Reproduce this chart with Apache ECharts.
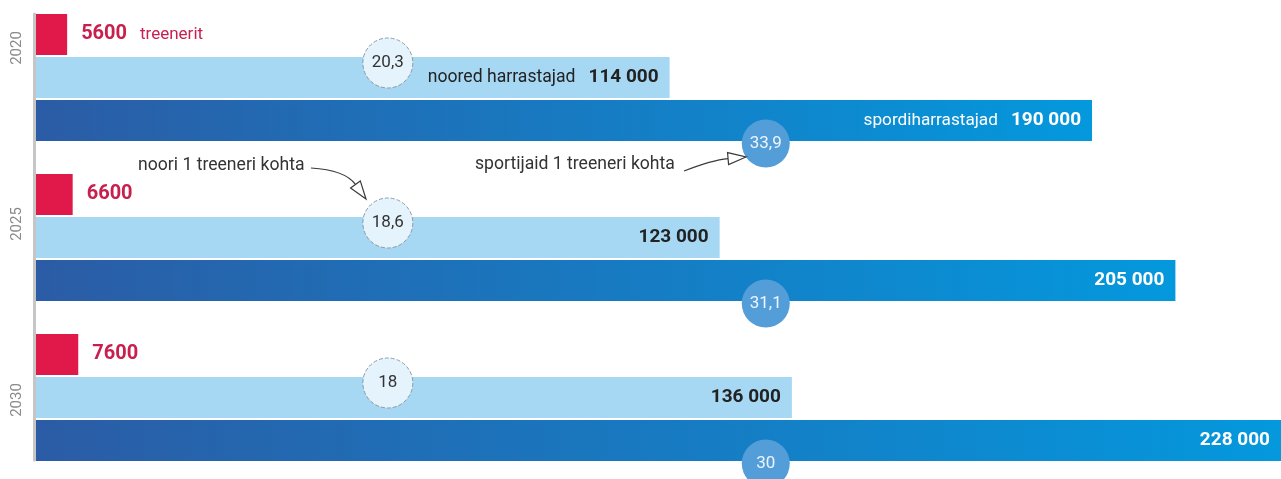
<!DOCTYPE html>
<html>
<head>
<meta charset="utf-8">
<title>Treenerid ja harrastajad</title>
<script src="https://cdn.jsdelivr.net/npm/echarts@6/dist/echarts.min.js"></script>
<style>
html,body{margin:0;padding:0;background:#fff;}
#main{width:1281px;height:479px;}
</style>
</head>
<body>
<div id="main"></div>
<script>
// andmed
var years = ['2020', '2025', '2030'];
var treenerid = [5600, 6600, 7600];
var noored = [114000, 123000, 136000];
var sportlased = [190000, 205000, 228000];
var nooriKohta = [20.3, 18.6, 18];
var sportijaidKohta = [33.9, 31.1, 30];

var FONT = 'Roboto, "Noto Sans", sans-serif';
var LIGHT_X = 63300;   // ringide asukoht (telje ühikutes)
var DARK_X = 131300;

function tuhat(v){ return String(v).replace(/\B(?=(\d{3})+(?!\d))/g, ' '); }
function koma(v){ return String(v).replace('.', ','); }

var myChart = echarts.init(document.getElementById('main'));

// nool: kõver + lahtine kolmnurk
function arrow(x1, y1, cx, cy, x2, y2){
    var a = Math.atan2(y2 - cy, x2 - cx);
    var bx = x2 - 18 * Math.cos(a), by = y2 - 18 * Math.sin(a);
    var px = -Math.sin(a) * 6, py = Math.cos(a) * 6;
    return [
        {type: 'bezierCurve', z: 100, shape: {x1: x1, y1: y1, cpx1: cx, cpy1: cy, x2: bx, y2: by},
         style: {stroke: '#3a3a3a', lineWidth: 1.2, fill: null}},
        {type: 'polygon', z: 100, shape: {points: [[x2, y2], [bx + px, by + py], [bx - px, by - py]]},
         style: {stroke: '#3a3a3a', lineWidth: 1.2, fill: '#fff'}}
    ];
}

var notes = [
    {type: 'text', z: 100, style: {text: 'noori 1 treeneri kohta', x: 138, y: 166, verticalAlign: 'middle',
        font: '17.6px ' + FONT, fill: '#333'}},
    {type: 'text', z: 100, style: {text: 'sportijaid 1 treeneri kohta', x: 475, y: 165, verticalAlign: 'middle',
        font: '17.6px ' + FONT, fill: '#333'}}
].concat(arrow(311, 168, 345, 170, 366, 199)).concat(arrow(684, 171, 712, 160, 746, 157));

var option = {
    animation: false,
    textStyle: {fontFamily: FONT},
    grid: [
        {left: 36, right: 0, top: -2.5, height: 480, outerBoundsMode: 'none'},
        {left: 35, right: 0, top: -40, height: 528, outerBoundsMode: 'none'},
        {left: 34.5, right: 0, top: 14, height: 446, outerBoundsMode: 'none'}
    ],
    xAxis: [
        {type: 'value', gridIndex: 0, min: 0, max: 224000, show: false},
        {type: 'value', gridIndex: 1, show: false},
        {type: 'value', gridIndex: 2, show: false}
    ],
    yAxis: [
        {type: 'category', gridIndex: 0, data: years, inverse: true, show: false},
        {type: 'category', gridIndex: 1, data: years, inverse: true,
            axisLine: {show: false}, axisTick: {show: false},
            axisLabel: {rotate: 90, margin: 10, color: '#8a8a8a', fontSize: 15}},
        {type: 'value', gridIndex: 2, min: 0, max: 1,
            axisLine: {show: true, lineStyle: {color: '#c6c6c6', width: 3}},
            axisTick: {show: false}, axisLabel: {show: false}, splitLine: {show: false}}
    ],
    graphic: notes,
    series: [
        {
            name: 'treenerit', type: 'bar', data: treenerid,
            barWidth: 41, barGap: '5%',
            itemStyle: {color: '#e1184a'},
            label: {
                show: true, position: 'right', distance: 14,
                formatter: function(p){
                    return p.dataIndex === 0 ? '{n|' + p.value + '}{t|treenerit}' : '{n|' + p.value + '}';
                },
                rich: {
                    n: {fontSize: 20, fontWeight: 'bold', color: '#c81f4e'},
                    t: {fontSize: 17, color: '#c81f4e', padding: [0, 0, 0, 13]}
                }
            }
        },
        {
            name: 'noored harrastajad', type: 'bar', data: noored,
            barWidth: 41,
            itemStyle: {color: '#a6d8f4'},
            label: {
                show: true, position: 'insideRight', distance: 11,
                formatter: function(p){
                    return p.dataIndex === 0 ? '{t|noored harrastajad}{n|' + tuhat(p.value) + '}' : '{n|' + tuhat(p.value) + '}';
                },
                rich: {
                    t: {fontSize: 17.6, color: '#222', padding: [0, 13, 0, 0]},
                    n: {fontSize: 19, fontWeight: 'bold', color: '#222'}
                }
            }
        },
        {
            name: 'spordiharrastajad', type: 'bar', data: sportlased,
            barWidth: 41,
            itemStyle: {color: new echarts.graphic.LinearGradient(0, 0, 1, 0, [
                {offset: 0, color: '#2b5ca5'}, {offset: 1, color: '#0498dd'}])},
            label: {
                show: true, position: 'insideRight', distance: 11,
                formatter: function(p){
                    return p.dataIndex === 0 ? '{t|spordiharrastajad}{n|' + tuhat(p.value) + '}' : '{n|' + tuhat(p.value) + '}';
                },
                rich: {
                    t: {fontSize: 17.2, color: '#fff', padding: [0, 13, 0, 0]},
                    n: {fontSize: 19, fontWeight: 'bold', color: '#fff'}
                }
            }
        },
        {
            name: 'noori 1 treeneri kohta', type: 'scatter', clip: false, z: 5,
            data: years.map(function(y, i){ return [LIGHT_X, i, nooriKohta[i]]; }),
            symbolSize: 50, symbolOffset: [0, -14.5],
            itemStyle: {color: '#e4f3fc', borderColor: '#8d9aa4', borderWidth: 1, borderType: 'dashed', opacity: 1},
            label: {show: true, position: 'inside', fontSize: 17, color: '#333',
                formatter: function(p){ return koma(p.value[2]); }}
        },
        {
            name: 'sportijaid 1 treeneri kohta', type: 'scatter', clip: false, z: 5,
            data: years.map(function(y, i){ return [DARK_X, i, sportijaidKohta[i]]; }),
            symbolSize: 48, symbolOffset: [0, 66],
            itemStyle: {color: '#539dd9', opacity: 1},
            label: {show: true, position: 'inside', fontSize: 17, color: '#eef5fc',
                formatter: function(p){ return koma(p.value[2]); }}
        }
    ]
};
myChart.setOption(option);
</script>
</body>
</html>
